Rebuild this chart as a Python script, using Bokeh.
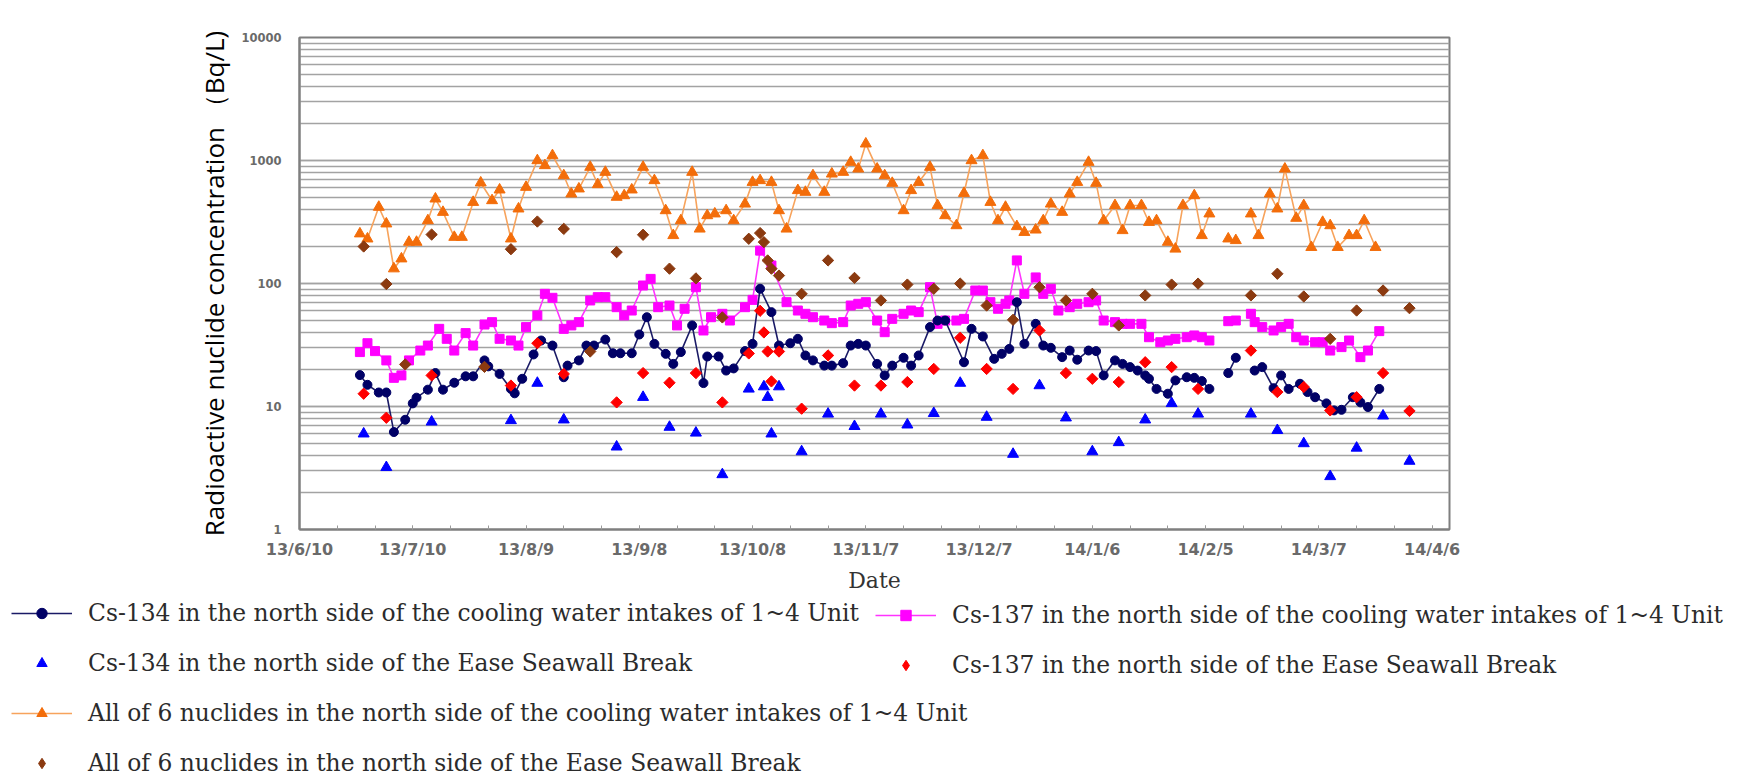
import numpy as np
from datetime import datetime, timedelta
from bokeh.plotting import figure
from bokeh.models import (Range1d, FixedTicker, DatetimeTickFormatter,
                          NumeralTickFormatter, Legend, LegendItem)
from bokeh.embed import file_html
from bokeh.resources import INLINE

# ---------------- data ----------------
# Cs-134, north side of the cooling water intakes of Units 1-4
cs134_in_dates = ["13/6/26","13/6/28","13/7/1","13/7/3","13/7/5","13/7/8","13/7/10","13/7/11","13/7/14","13/7/16",
    "13/7/18","13/7/21","13/7/24","13/7/26","13/7/29","13/7/30","13/8/2","13/8/5","13/8/6","13/8/8",
    "13/8/11","13/8/13","13/8/16","13/8/19","13/8/20","13/8/23","13/8/25","13/8/27","13/8/30","13/9/1",
    "13/9/3","13/9/6","13/9/8","13/9/10","13/9/12","13/9/15","13/9/17","13/9/19","13/9/22","13/9/25",
    "13/9/26","13/9/29","13/10/1","13/10/3","13/10/6","13/10/8","13/10/10","13/10/13","13/10/15","13/10/18",
    "13/10/20","13/10/22","13/10/24","13/10/27","13/10/29","13/11/1","13/11/3","13/11/5","13/11/7","13/11/10",
    "13/11/12","13/11/14","13/11/17","13/11/19","13/11/21","13/11/24","13/11/26","13/11/28","13/12/3","13/12/5",
    "13/12/8","13/12/11","13/12/13","13/12/15","13/12/17","13/12/19","13/12/22","13/12/24","13/12/26","13/12/29",
    "13/12/31","14/1/2","14/1/5","14/1/7","14/1/9","14/1/12","14/1/14","14/1/16","14/1/18","14/1/20",
    "14/1/21","14/1/23","14/1/26","14/1/28","14/1/31","14/2/2","14/2/4","14/2/6","14/2/9","14/2/11",
    "14/2/13","14/2/15","14/2/18","14/2/20","14/2/23","14/2/25","14/2/27","14/3/2","14/3/4","14/3/6",
    "14/3/9","14/3/11","14/3/13","14/3/16","14/3/18","14/3/20","14/3/23"]
cs134_in_vals = [18,15,13,13,6.2,7.8,10.6,11.8,13.7,18.7,
    13.7,15.6,17.6,17.6,23.7,21.2,18.4,13.9,12.8,16.8,
    26.5,34.4,31.3,17.3,21.5,23.7,31.3,31.3,35,27.1,
    27.1,27.1,38.5,53.2,32.3,26.8,22.2,27.7,45.6,15.5,
    25.5,25.5,19.6,20.4,28.2,32.3,90.6,58.5,31.3,32.7,
    35.5,26,23.7,21.5,21.5,22.5,31.3,32.3,31.3,22.2,
    17.9,21.5,24.9,21.5,26,44.2,50,50,22.9,42.8,
    37.1,24.4,26.8,29.4,70.5,32.3,47,31.3,30,25.2,
    28.5,24,28.5,28.2,17.9,23.7,22.2,20.9,19.6,17.9,
    16.8,13.9,12.7,16.3,17.3,17.1,16.1,13.9,None,18.7,
    24.9,None,19.6,20.9,14.1,17.9,13.9,15.3,13.1,11.9,
    10.6,9.3,9.4,11.9,10.8,9.9,13.9]

# Cs-137, north side of the cooling water intakes of Units 1-4
cs137_in_dates = ["13/6/26","13/6/28","13/6/30","13/7/3","13/7/5","13/7/7","13/7/9","13/7/12","13/7/14","13/7/17",
    "13/7/19","13/7/21","13/7/24","13/7/26","13/7/29","13/7/31","13/8/2","13/8/5","13/8/7","13/8/9",
    "13/8/12","13/8/14","13/8/16","13/8/19","13/8/21","13/8/23","13/8/26","13/8/28","13/8/30","13/9/2",
    "13/9/4","13/9/6","13/9/9","13/9/11","13/9/13","13/9/16","13/9/18","13/9/20","13/9/23","13/9/25",
    "13/9/27","13/9/30","13/10/2","13/10/6","13/10/8","13/10/10","13/10/13","13/10/17","13/10/20","13/10/22",
    "13/10/24","13/10/27","13/10/29","13/11/1","13/11/3","13/11/5","13/11/7","13/11/10","13/11/12","13/11/14",
    "13/11/17","13/11/19","13/11/21","13/11/24","13/11/26","13/11/28","13/12/1","13/12/3","13/12/6","13/12/8",
    "13/12/10","13/12/12","13/12/14","13/12/15","13/12/17","13/12/19","13/12/22","13/12/24","13/12/26","13/12/28",
    "13/12/31","14/1/2","14/1/5","14/1/7","14/1/9","14/1/12","14/1/14","14/1/16","14/1/19","14/1/21",
    "14/1/24","14/1/26","14/1/28","14/1/31","14/2/2","14/2/4","14/2/6","14/2/9","14/2/11","14/2/13",
    "14/2/15","14/2/17","14/2/18","14/2/20","14/2/23","14/2/25","14/2/27","14/3/1","14/3/3","14/3/6",
    "14/3/8","14/3/10","14/3/13","14/3/15","14/3/18","14/3/20","14/3/23"]
cs137_in_vals = [27.7,32.7,28.2,23.7,17.1,17.9,23.7,28.5,31.3,42.8,
    35.5,28.5,39.5,31.3,46.4,48.5,35.5,34.4,31.3,44.2,
    55,82.4,76.5,42.8,45.6,48.5,72.8,77.4,77.4,64.2,
    55,60.3,96.3,109,64.2,66.2,45.6,62.3,93.3,41.5,
    53.2,56.7,50,64.2,73.6,185,140,70.5,60.3,56.7,
    53.2,50,47.6,48.5,66.2,68.4,70.5,50,40.2,51.6,
    56.7,60.3,58.5,93.3,47,50,50,51.6,87.7,87.7,
    70.5,62.3,68.4,72.8,154,82.4,112,82.4,90.6,60.3,
    64.2,68.4,70.5,72.8,50,48.5,47,47,47,36.6,
    33.3,34.4,35.5,36.6,37.8,36.6,34.4,None,49.4,50,
    None,56.7,48.5,44.2,41.5,44.2,47,36.6,34.4,33.3,
    33.3,28.5,30.4,34.4,25.2,28.5,41]

# All of 6 nuclides, north side of the cooling water intakes of Units 1-4
all6_in_dates = ["13/6/26","13/6/28","13/7/1","13/7/3","13/7/5","13/7/7","13/7/9","13/7/11","13/7/14","13/7/16",
    "13/7/18","13/7/21","13/7/23","13/7/26","13/7/28","13/7/31","13/8/2","13/8/5","13/8/7","13/8/9",
    "13/8/12","13/8/14","13/8/16","13/8/19","13/8/21","13/8/23","13/8/26","13/8/28","13/8/30","13/9/2",
    "13/9/4","13/9/6","13/9/9","13/9/12","13/9/15","13/9/17","13/9/19","13/9/22","13/9/24","13/9/26",
    "13/9/28","13/10/1","13/10/3","13/10/6","13/10/8","13/10/10","13/10/13","13/10/15","13/10/17","13/10/20",
    "13/10/22","13/10/24","13/10/27","13/10/29","13/11/1","13/11/3","13/11/5","13/11/7","13/11/10","13/11/12",
    "13/11/14","13/11/17","13/11/19","13/11/21","13/11/24","13/11/26","13/11/28","13/12/1","13/12/3","13/12/5",
    "13/12/8","13/12/10","13/12/12","13/12/14","13/12/17","13/12/19","13/12/22","13/12/24","13/12/26","13/12/29",
    "13/12/31","14/1/2","14/1/5","14/1/7","14/1/9","14/1/12","14/1/14","14/1/16","14/1/19","14/1/21",
    "14/1/23","14/1/26","14/1/28","14/1/30","14/2/2","14/2/4","14/2/6","14/2/9","14/2/11","14/2/13",
    "14/2/15","14/2/17","14/2/19","14/2/22","14/2/24","14/2/26","14/3/1","14/3/3","14/3/5","14/3/8",
    "14/3/10","14/3/12","14/3/15","14/3/17","14/3/19","14/3/22"]
all6_in_vals = [254,231,418,306,132,159,217,217,325,488,
    380,238,238,458,659,473,578,231,405,607,
    1000,911,1098,755,536,589,883,638,804,504,
    519,578,883,688,392,246,325,804,278,357,
    369,392,325,444,666,688,666,392,278,571,
    553,755,553,779,804,969,855,1367,855,755,
    654,392,571,666,883,431,357,296,542,1000,
    1098,458,325,418,291,261,273,325,444,380,
    536,666,969,654,325,431,270,431,431,315,
    325,217,191,431,519,246,369,None,231,224,
    None,369,246,536,405,855,340,431,197,315,
    296,197,246,246,325,197]

# North side of the East Seawall Break (weekly samples)
cs134_sw_dates = ["13/6/27","13/7/3","13/7/15","13/8/5","13/8/12","13/8/19","13/9/2","13/9/9","13/9/16","13/9/23",
    "13/9/30","13/10/7","13/10/11","13/10/12","13/10/13","13/10/15","13/10/21","13/10/28","13/11/4","13/11/11",
    "13/11/18","13/11/25","13/12/2","13/12/9","13/12/16","13/12/23","13/12/30","14/1/6","14/1/13","14/1/20",
    "14/1/27","14/2/3","14/2/17","14/2/24","14/3/3","14/3/10","14/3/17","14/3/24","14/3/31"]
cs134_sw_vals = [6.0,3.2,7.5,7.7,15.5,7.8,4.7,11.9,6.8,6.1,
    2.8,13.9,14.5,11.9,6.0,14.5,4.3,8.7,6.9,8.7,
    7.1,8.8,15.5,8.2,4.1,14.8,8.1,4.3,5.1,7.8,
    10.6,8.7,8.7,6.4,5.0,2.7,4.6,8.4,3.6]

cs137_sw_dates = ["13/6/27","13/7/3","13/7/15","13/8/5","13/8/12","13/8/19","13/9/2","13/9/9","13/9/16","13/9/23",
    "13/9/30","13/10/7","13/10/10","13/10/11","13/10/12","13/10/13","13/10/15","13/10/21","13/10/28","13/11/4",
    "13/11/11","13/11/18","13/11/25","13/12/2","13/12/9","13/12/16","13/12/23","13/12/30","14/1/6","14/1/13",
    "14/1/20","14/1/27","14/2/3","14/2/17","14/2/24","14/3/3","14/3/10","14/3/17","14/3/24","14/3/31"]
cs137_sw_vals = [12.7,8.1,17.9,14.8,32.7,18.4,10.8,18.7,15.6,18.7,
    10.8,27,60,40,28,16,28,9.6,26,14.8,
    14.8,15.8,20.2,36.2,20.2,13.9,41.5,18.7,16.8,15.8,
    22.9,20.9,13.9,28.5,13.1,14.4,9.3,11.9,18.7,9.2]

all6_sw_dates = ["13/6/27","13/7/3","13/7/8","13/7/15","13/7/29","13/8/5","13/8/12","13/8/19","13/8/26","13/9/2",
    "13/9/9","13/9/16","13/9/23","13/9/30","13/10/7","13/10/10","13/10/11","13/10/12","13/10/13","13/10/15",
    "13/10/21","13/10/28","13/11/4","13/11/11","13/11/18","13/11/25","13/12/2","13/12/9","13/12/16","13/12/23",
    "13/12/30","14/1/6","14/1/13","14/1/20","14/1/27","14/2/3","14/2/17","14/2/24","14/3/3","14/3/10",
    "14/3/17","14/3/24","14/3/31"]
all6_sw_vals = [200,99,22,250,21,190,319,278,28,180,
    249,132,110,53,231,257,217,154,132,116,
    82.4,154,111,72.8,98,90.6,99.8,66.2,50.7,93.3,
    72.8,82.4,45.6,80,98,99.8,80,120,78.4,35.5,
    60.3,87.7,63]

tick_start = "13/6/10"   # first labelled date; labels every 30 days
tick_count = 11

labels_left = [
    "Cs-134 in the north side of the cooling water intakes of 1~4 Unit",
    "Cs-134 in the north side of the Ease Seawall Break",
    "All of 6 nuclides in the north side of the cooling water intakes of 1~4 Unit",
    "All of 6 nuclides in the north side of the Ease Seawall Break",
]
labels_right = [
    "Cs-137 in the north side of the cooling water intakes of 1~4 Unit",
    "Cs-137 in the north side of the Ease Seawall Break",
]

# ---------------- helpers ----------------
def to_dt(ds):
    return [datetime.strptime(d, "%y/%m/%d") for d in ds]

def to_val(vs):
    return np.array([np.nan if v is None else v for v in vs], dtype=float)

EPOCH = datetime(1970, 1, 1)
def ms(d):
    return (d - EPOCH).total_seconds() * 1000.0

start = datetime.strptime(tick_start, "%y/%m/%d")
end = start + timedelta(days=304.6)

W = 1747
H1 = 598
p = figure(width=W, height=H1, x_axis_type="datetime", y_axis_type="log",
           x_range=Range1d(start, end), y_range=Range1d(1, 10000),
           output_backend="svg", toolbar_location=None,
           min_border_left=299, min_border_right=W - 1449, min_border_top=37, min_border_bottom=H1 - 529,
           background_fill_color="white", border_fill_color="white")

major = [ms(start + timedelta(days=30 * i)) for i in range(tick_count)]
minor = [ms(start + timedelta(days=10 * i)) for i in range(31)]
p.xaxis.ticker = FixedTicker(ticks=major, minor_ticks=minor)
fmt = "%y/%-m/%-d"
p.xaxis.formatter = DatetimeTickFormatter(days=fmt, months=fmt, years=fmt, hours=fmt,
                                          hourmin=fmt, minutes=fmt, minsec=fmt, seconds=fmt,
                                          milliseconds=fmt, microseconds=fmt, context=None)
p.xaxis.major_label_text_font = "DejaVu Sans"
p.xaxis.major_label_text_font_size = "16px"
p.xaxis.major_label_text_font_style = "bold"
p.xaxis.major_label_text_color = "#6a6a6a"
p.xaxis.major_label_standoff = 10
p.xaxis.axis_line_color = "#7f7f7f"
p.xaxis.axis_line_width = 2
p.xaxis.major_tick_in = 4
p.xaxis.major_tick_out = 0
p.xaxis.minor_tick_in = 4
p.xaxis.minor_tick_out = 0
p.xaxis.major_tick_line_color = "#9a9a9a"
p.xaxis.minor_tick_line_color = "#9a9a9a"
p.xaxis.axis_label = "Date"
p.xaxis.axis_label_text_font = "DejaVu Serif"
p.xaxis.axis_label_text_font_size = "22px"
p.xaxis.axis_label_text_font_style = "normal"
p.xaxis.axis_label_text_color = "#333333"
p.xaxis.axis_label_standoff = 6

p.yaxis.formatter = NumeralTickFormatter(format="0")
p.yaxis.major_label_text_font = "DejaVu Sans"
p.yaxis.major_label_text_font_size = "11.5px"
p.yaxis.major_label_text_font_style = "bold"
p.yaxis.major_label_text_color = "#6a6a6a"
p.yaxis.major_label_standoff = 12
p.yaxis.major_tick_line_color = None
p.yaxis.minor_tick_line_color = None
p.yaxis.axis_line_color = "#7f7f7f"
p.yaxis.axis_line_width = 2
p.yaxis.axis_label = "Radioactive nuclide concentration \uff08Bq/L)"
p.yaxis.axis_label_text_font = "Open Sans"
p.yaxis.axis_label_text_font_size = "26px"
p.yaxis.axis_label_text_font_style = "normal"
p.yaxis.axis_label_text_color = "black"
p.yaxis.axis_label_standoff = 6

p.xgrid.grid_line_color = None
p.ygrid.grid_line_color = "#a3a3a3"
p.ygrid.grid_line_width = 1.6
p.ygrid.minor_grid_line_color = "#a3a3a3"
p.ygrid.minor_grid_line_width = 1.6
p.outline_line_color = "#7f7f7f"
p.outline_line_width = 2

# ---------------- series styles ----------------
ang = np.pi / 4
S_OR_L = dict(line_color="#f7a35c", line_width=1.6)
S_OR_M = dict(marker="triangle", size=11, fill_color="#f36d0a", line_color="#f36d0a")
S_MG_L = dict(line_color="#ff33ff", line_width=1.6)
S_MG_M = dict(marker="square", size=9, fill_color="#ff00ff", line_color="#ff00ff")
S_NV_L = dict(line_color="#1a1a66", line_width=1.6)
S_NV_M = dict(marker="circle", size=9, fill_color="#000066", line_color="#000066")
S_BL_M = dict(marker="triangle", size=11, fill_color="#0000ff", line_color="#0000ff")
RD = dict(fill_color="#ff0000", line_color="#ff0000")
BR = dict(fill_color="#8b3a10", line_color="#8b3a10")
S_RD_M = dict(marker="square", angle=ang, size=8, **RD)
S_BR_M = dict(marker="square", angle=ang, size=8, **BR)

p.line(to_dt(all6_in_dates), to_val(all6_in_vals), **S_OR_L)
p.scatter(to_dt(all6_in_dates), to_val(all6_in_vals), **S_OR_M)
p.line(to_dt(cs137_in_dates), to_val(cs137_in_vals), **S_MG_L)
p.scatter(to_dt(cs137_in_dates), to_val(cs137_in_vals), **S_MG_M)
p.line(to_dt(cs134_in_dates), to_val(cs134_in_vals), **S_NV_L)
p.scatter(to_dt(cs134_in_dates), to_val(cs134_in_vals), **S_NV_M)
p.scatter(to_dt(cs134_sw_dates), to_val(cs134_sw_vals), **S_BL_M)
p.scatter(to_dt(cs137_sw_dates), to_val(cs137_sw_vals), **S_RD_M)
p.scatter(to_dt(all6_sw_dates), to_val(all6_sw_vals), **S_BR_M)

# ---------------- legend strip (second root below the chart) ----------------
LH = 178
q = figure(width=W, height=LH, x_axis_location=None, y_axis_location=None,
           x_range=Range1d(0, 1), y_range=Range1d(0, 1),
           output_backend="svg", toolbar_location=None, min_border=0,
           outline_line_color=None, background_fill_color="white", border_fill_color="white")
q.grid.grid_line_color = None
e = [np.nan]   # key swatches only: nothing is plotted in this strip
k_nv = [q.line(e, e, **S_NV_L), q.scatter(e, e, **S_NV_M)]
k_bl = [q.scatter(e, e, **S_BL_M)]
k_or = [q.line(e, e, **S_OR_L), q.scatter(e, e, **S_OR_M)]
k_br = [q.scatter(e, e, marker="diamond", size=12, **BR)]
k_mg = [q.line(e, e, **S_MG_L), q.scatter(e, e, **S_MG_M)]
k_rd = [q.scatter(e, e, marker="diamond", size=12, **RD)]

def make_legend(items, loc):
    return Legend(items=items, location=loc, orientation="vertical",
                  label_text_font="DejaVu Serif", label_text_font_size="23.4px",
                  label_text_color="#2b2b2b", glyph_width=61, glyph_height=26,
                  label_height=26, label_standoff=16, spacing=22, padding=0, margin=0,
                  border_line_color=None, background_fill_alpha=0)

left_items = [LegendItem(label=l, renderers=r) for l, r in zip(labels_left, [k_nv, k_bl, k_or, k_br])]
right_items = [LegendItem(label=l, renderers=r) for l, r in zip(labels_right, [k_mg, k_rd])]
q.add_layout(make_legend(left_items, (11, -1)), "center")
q.add_layout(make_legend(right_items, (875, 97)), "center")

open("out.html", "w").write(file_html([p, q], INLINE))
